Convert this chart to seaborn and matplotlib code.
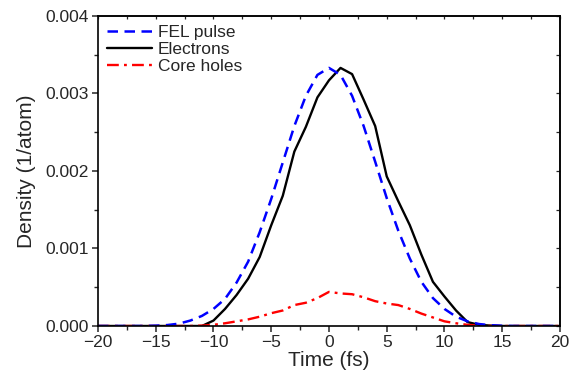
import matplotlib
matplotlib.use("Agg")
import matplotlib.pyplot as plt
import seaborn as sns
import numpy as np
import pandas as pd
from matplotlib.ticker import MultipleLocator, FormatStrFormatter

# ---- data ----
time_fs = list(range(-20, 21))

fel_pulse = [0, 0, 0, 0, 0,
             0.000004, 0.000012, 0.00003, 0.00007, 0.00013,
             0.00022, 0.00035, 0.00056, 0.00083, 0.00121,
             0.00164, 0.00211, 0.00258, 0.00297, 0.00324,
             0.00333,
             0.00324, 0.00297, 0.00258, 0.00212, 0.00165,
             0.00123, 0.00087, 0.00057, 0.00036, 0.00022,
             0.00012, 0.00006, 0.000025, 0.00001, 0.000003,
             0, 0, 0, 0, 0]

electrons = [0, 0, 0, 0, 0,
             0, 0, 0, 0, 0,
             0.00007, 0.00022, 0.00040, 0.00061, 0.00089,
             0.00130, 0.00168, 0.00225, 0.00257, 0.00295,
             0.00317,
             0.00333, 0.00325, 0.00292, 0.00258, 0.00193,
             0.00161, 0.00130, 0.00092, 0.00057, 0.00038,
             0.00020, 0.00005, 0.000015, 0.000005, 0,
             0, 0, 0, 0, 0]

core_holes = [0, 0, 0, 0, 0,
              0, 0, 0, 0, 0.000005,
              0.000015, 0.000035, 0.00006, 0.000085, 0.00012,
              0.000165, 0.00020, 0.00027, 0.00030, 0.00036,
              0.00044,
              0.00042, 0.00041, 0.00037, 0.00032, 0.00029,
              0.00027, 0.00022, 0.00016, 0.00011, 0.00006,
              0.000035, 0.000015, 0.000005, 0, 0,
              0, 0, 0, 0, 0]

series_labels = ["FEL pulse", "Electrons", "Core holes"]
x_ticks = [-20, -15, -10, -5, 0, 5, 10, 15, 20]
y_ticks = [0.000, 0.001, 0.002, 0.003, 0.004]

# ---- style ----
sns.set_style("ticks")
plt.rcParams["font.family"] = ["Liberation Sans", "DejaVu Sans"]
plt.rcParams["axes.linewidth"] = 1.2

fig = plt.figure(figsize=(5.71, 3.78), dpi=100)
ax = fig.add_axes([0.1716, 0.1376, 0.8091, 0.8201])

df = pd.DataFrame({"t": time_fs, "fel": fel_pulse, "el": electrons, "ch": core_holes})

sns.lineplot(data=df, x="t", y="el", color="black", lw=1.7, ax=ax,
             label=series_labels[1], estimator=None)
l_el = ax.lines[-1]
sns.lineplot(data=df, x="t", y="ch", color="#ff0000", lw=1.7, ax=ax,
             label=series_labels[2], estimator=None)
l_ch = ax.lines[-1]
l_ch.set_dashes((5, 2.2, 1.2, 2.2))
sns.lineplot(data=df, x="t", y="fel", color="#0000ff", lw=1.8, ax=ax,
             label=series_labels[0], estimator=None)
l_fel = ax.lines[-1]
l_fel.set_dashes((4.2, 2.6))

ax.set_xlim(-20, 20)
ax.set_ylim(0, 0.004)
ax.set_xticks(x_ticks)
ax.set_yticks(y_ticks)
ax.yaxis.set_major_formatter(FormatStrFormatter("%.3f"))
ax.xaxis.set_minor_locator(MultipleLocator(2.5))
ax.yaxis.set_minor_locator(MultipleLocator(0.0005))
ax.tick_params(axis="both", which="major", direction="out", length=4.5, width=1.1,
               labelsize=12.5, top=False, right=False, pad=2)
ax.tick_params(axis="both", which="minor", direction="out", length=2.8, width=1.0,
               top=False, right=False)

for s in ax.spines.values():
    s.set_visible(True)
    s.set_color("black")
    s.set_linewidth(1.2)

# inward ticks on top and right
secx = ax.secondary_xaxis("top")
secx.set_xticks(x_ticks)
secx.xaxis.set_minor_locator(MultipleLocator(2.5))
secx.tick_params(axis="x", which="both", direction="in", length=2.5, width=0.9,
                 labeltop=False)
secx.spines["top"].set_linewidth(1.2)
secy = ax.secondary_yaxis("right")
secy.set_yticks(y_ticks)
secy.yaxis.set_minor_locator(MultipleLocator(0.0005))
secy.tick_params(axis="y", which="both", direction="in", length=3, width=0.9,
                 labelright=False)
secy.spines["right"].set_linewidth(1.2)

ax.set_xlabel("Time (fs)", fontsize=15, labelpad=1)
ax.set_ylabel("Density (1/atom)", fontsize=15, labelpad=7)

handles = [l_fel, l_el, l_ch]
leg = ax.legend(handles, series_labels, loc="upper left", frameon=False,
                fontsize=12.5, handlelength=2.6, handletextpad=0.35,
                labelspacing=0.12, borderaxespad=0.2, borderpad=0.3)

fig.savefig("out.png", dpi=100)
